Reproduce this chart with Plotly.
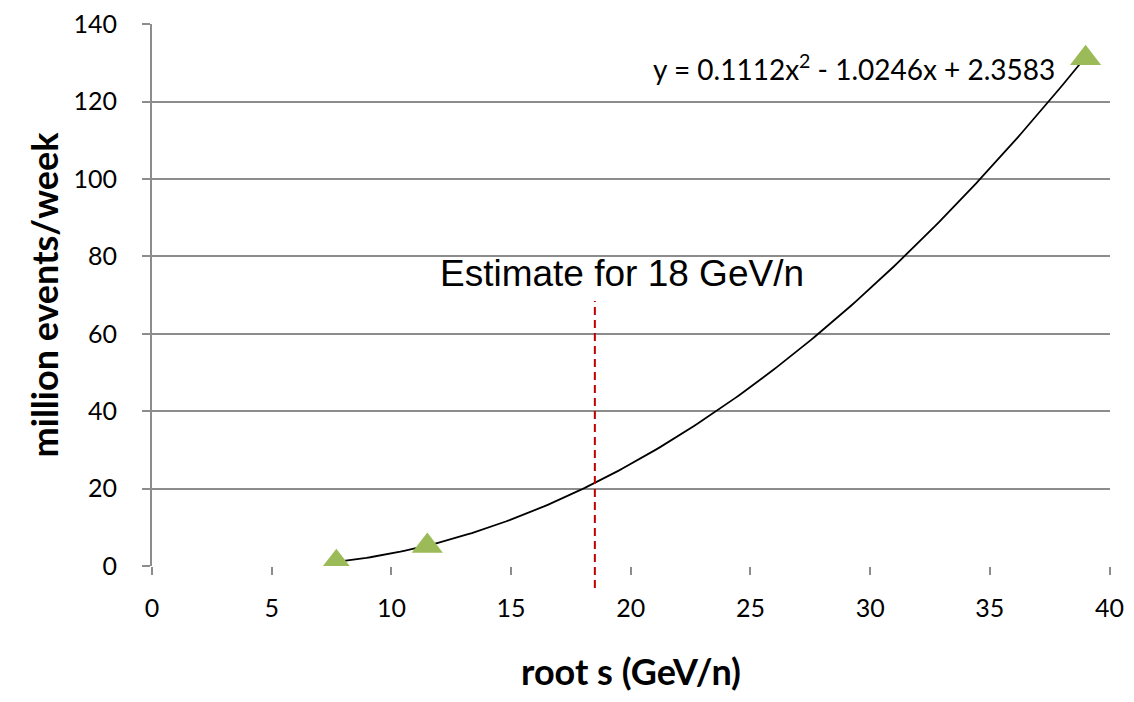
import numpy as np
import plotly.graph_objects as go

# measured points (root s in GeV/n, million events/week)
root_s = [7.7, 11.5, 39.0]
events = [1.0, 5.2, 131.2]

# polynomial trendline shown on the chart: y = a x^2 + b x + c
trend_coef = [0.1112, -1.0246, 2.3583]

# dashed estimate marker: x position and vertical extent (data units)
estimate_x = 18.5
estimate_span = [-5.7, 68.5]

x_max = 40.02
y_max = 140.05
x_ticks = [0, 5, 10, 15, 20, 25, 30, 35, 40]
y_ticks = [0, 20, 40, 60, 80, 100, 120, 140]

tick_font = dict(family="Lato, 'Open Sans', sans-serif", size=25, color="black")
title_font = dict(family="Lato, 'Open Sans', sans-serif", size=36, color="black")
grid = "#8c8c8c"

xs = np.linspace(min(root_s), max(root_s), 200)
ys = np.polyval(trend_coef, xs)

fig = go.Figure()
fig.add_trace(go.Scatter(
    x=xs, y=ys, mode="lines",
    line=dict(color="black", width=1.8), hoverinfo="skip"
))
fig.add_trace(go.Scatter(
    x=root_s, y=events, mode="markers",
    marker=dict(symbol="triangle-up", size=27, color="#9BBB59")
))

# paper-referenced so the dashes can run below the x axis without clipping
fig.add_shape(
    type="line", xref="paper", yref="paper",
    x0=estimate_x / x_max, x1=estimate_x / x_max,
    y0=estimate_span[0] / y_max, y1=estimate_span[1] / y_max,
    line=dict(color="#C00000", width=2, dash="8px,5px")
)
fig.add_annotation(
    x=19.65, y=75.7, text="Estimate for 18 GeV/n", showarrow=False,
    font=dict(family="Liberation Sans, Arial, sans-serif", size=37, color="black")
)
fig.add_annotation(
    x=37.8, y=128.9, xanchor="right", showarrow=False,
    text="y = 0.1112x<sup>2</sup> - 1.0246x + 2.3583",
    font=dict(family="Lato, 'Open Sans', sans-serif", size=28, color="black")
)

fig.update_xaxes(
    range=[0, x_max], tickvals=x_ticks, showgrid=False, zeroline=False,
    showline=False, ticks="outside", ticklen=8, tickcolor=grid, tickwidth=2,
    tickfont=tick_font, ticklabelstandoff=12, ticklabeloverflow="allow",
    automargin=False,
    title=dict(text="<b>root s (GeV/n)</b>", font=title_font, standoff=38)
)
fig.update_yaxes(
    range=[0, y_max], tickvals=y_ticks, showgrid=True, gridcolor=grid, gridwidth=2,
    zeroline=False, showline=True, linecolor=grid, linewidth=2,
    ticks="outside", ticklen=8, tickcolor=grid, tickwidth=2,
    tickfont=tick_font, ticklabelstandoff=20, ticklabeloverflow="allow",
    automargin=False,
    title=dict(text="<b>million events/week</b>", font=title_font, standoff=4)
)
fig.update_layout(
    width=1126, height=694, showlegend=False,
    plot_bgcolor="white", paper_bgcolor="white",
    margin=dict(l=144, r=24, t=16, b=136)
)

fig.write_html("out.html")
